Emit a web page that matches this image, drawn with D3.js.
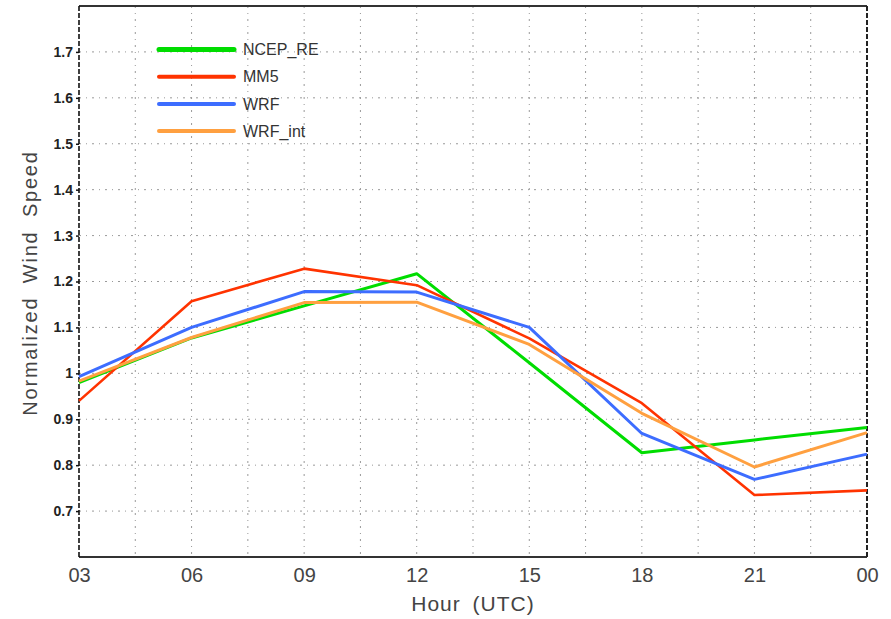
<!DOCTYPE html>
<html>
<head>
<meta charset="utf-8">
<script src="https://cdn.jsdelivr.net/npm/d3@7"></script>
<style>
  body { margin: 0; background: #fff; }
</style>
</head>
<body>
<div id="chart"></div>
<script>
// Normalized wind speed by hour

const hours = ["03", "06", "09", "12", "15", "18", "21", "00"];
const ncepRe = [0.980, 1.077, 1.147, 1.217, 1.023, 0.827, 0.855, 0.882];
const mm5 = [0.940, 1.157, 1.228, 1.192, 1.076, 0.935, 0.735, 0.745];
const wrf = [0.993, 1.100, 1.178, 1.177, 1.100, 0.869, 0.769, 0.824];
const wrfInt = [0.983, 1.078, 1.154, 1.155, 1.063, 0.913, 0.796, 0.871];
const yTicks = [0.7, 0.8, 0.9, 1.0, 1.1, 1.2, 1.3, 1.4, 1.5, 1.6, 1.7];

const series = [
    { name: "NCEP_RE", values: ncepRe, color: "#00dd00", width: 3 },
    { name: "MM5", values: mm5, color: "#ff3300", width: 2.6 },
    { name: "WRF", values: wrf, color: "#3d6dff", width: 3 },
    { name: "WRF_int", values: wrfInt, color: "#ffa040", width: 3 }
];

const width = 891;
const height = 619;
const margin = { top: 6, right: 24, bottom: 62, left: 79 };

const svg = d3.select("#chart")
    .append("svg")
    .attr("width", width)
    .attr("height", height);

const xScale = d3.scalePoint()
    .domain(d3.range(hours.length))
    .range([margin.left, width - margin.right]);

const yScale = d3.scaleLinear()
    .domain([0.6, 1.8])
    .range([height - margin.bottom, margin.top]);

const step = xScale.step();

// grid
const grid = svg.append("g")
    .attr("stroke", "#999")
    .attr("stroke-width", 1)
    .attr("stroke-dasharray", "2,5,1,5");

grid.selectAll("line.h")
    .data(yTicks)
    .join("line")
    .attr("class", "h")
    .attr("x1", margin.left)
    .attr("x2", width - margin.right)
    .attr("y1", d => yScale(d))
    .attr("y2", d => yScale(d));

// vertical grid every half interval
const vx = d3.range(1, (hours.length - 1) * 2).map(i => margin.left + i * step / 2);
grid.selectAll("line.v")
    .data(vx)
    .join("line")
    .attr("class", "v")
    .attr("x1", d => d)
    .attr("x2", d => d)
    .attr("y1", margin.top)
    .attr("y2", height - margin.bottom);

// frame
const x0 = margin.left, x1 = width - margin.right;
const y0 = margin.top, y1 = height - margin.bottom;
svg.append("line").attr("x1", x0).attr("x2", x1).attr("y1", y0).attr("y2", y0)
    .attr("stroke", "#333").attr("stroke-width", 2);
svg.append("line").attr("x1", x0).attr("x2", x1).attr("y1", y1).attr("y2", y1)
    .attr("stroke", "#333").attr("stroke-width", 2);
svg.append("line").attr("x1", x0).attr("x2", x0).attr("y1", y0).attr("y2", y1)
    .attr("stroke", "#111").attr("stroke-width", 1.6).attr("stroke-dasharray", "5,2");
svg.append("line").attr("x1", x1).attr("x2", x1).attr("y1", y0).attr("y2", y1)
    .attr("stroke", "#222").attr("stroke-width", 2).attr("stroke-dasharray", "5,2");

// y axis
const yAxis = svg.append("g")
    .attr("transform", `translate(${margin.left},0)`)
    .call(d3.axisLeft(yScale)
        .tickValues(yTicks)
        .tickSize(3)
        .tickPadding(3)
        .tickFormat(d => d === 1 ? "1" : d3.format(".1f")(d)));
yAxis.select(".domain").remove();
yAxis.selectAll(".tick line").attr("stroke", "#111").attr("stroke-width", 1.5);
yAxis.selectAll(".tick text")
    .attr("font-family", "Liberation Sans, Arial, sans-serif")
    .attr("font-size", "14px")
    .attr("font-weight", "bold")
    .attr("fill", "#222");

// x axis
const xAxis = svg.append("g")
    .attr("transform", `translate(0,${height - margin.bottom})`)
    .call(d3.axisBottom(xScale)
        .tickSize(0)
        .tickPadding(10)
        .tickFormat(i => hours[i]));
xAxis.select(".domain").remove();
xAxis.selectAll(".tick text")
    .attr("font-family", "Liberation Sans, Arial, sans-serif")
    .attr("font-size", "20px")
    .attr("fill", "#444")
    .attr("dy", "0.75em");

// axis titles
svg.append("text")
    .attr("x", 473)
    .attr("y", 611)
    .attr("text-anchor", "middle")
    .attr("font-family", "Liberation Sans, Arial, sans-serif")
    .attr("font-size", "21px")
    .attr("fill", "#444")
    .attr("letter-spacing", "1px")
    .attr("word-spacing", "5px")
    .text("Hour (UTC)");

svg.append("text")
    .attr("transform", "translate(37,283) rotate(-90)")
    .attr("text-anchor", "middle")
    .attr("font-family", "Liberation Sans, Arial, sans-serif")
    .attr("font-size", "20px")
    .attr("fill", "#444")
    .attr("letter-spacing", "1.8px")
    .attr("word-spacing", "6px")
    .text("Normalized Wind Speed");

// lines
const line = d3.line()
    .x((d, i) => xScale(i))
    .y(d => yScale(d));

svg.append("g")
    .selectAll("path")
    .data(series)
    .join("path")
    .attr("fill", "none")
    .attr("stroke", d => d.color)
    .attr("stroke-width", d => d.width)
    .attr("stroke-linejoin", "round")
    .attr("d", d => line(d.values));

// legend
const legend = svg.append("g");
series.forEach((s, i) => {
    const ly = 49.5 + i * 27.2;
    legend.append("line")
        .attr("x1", 159).attr("x2", 234)
        .attr("y1", ly).attr("y2", ly)
        .attr("stroke", s.color)
        .attr("stroke-width", i === 0 ? 5 : 4)
        .attr("stroke-linecap", "round");
    legend.append("text")
        .attr("x", 243)
        .attr("y", ly)
        .attr("dy", "0.35em")
        .attr("font-family", "Liberation Sans, Arial, sans-serif")
        .attr("font-size", "16px")
        .attr("fill", "#333")
        .text(s.name);
});
</script>
</body>
</html>
